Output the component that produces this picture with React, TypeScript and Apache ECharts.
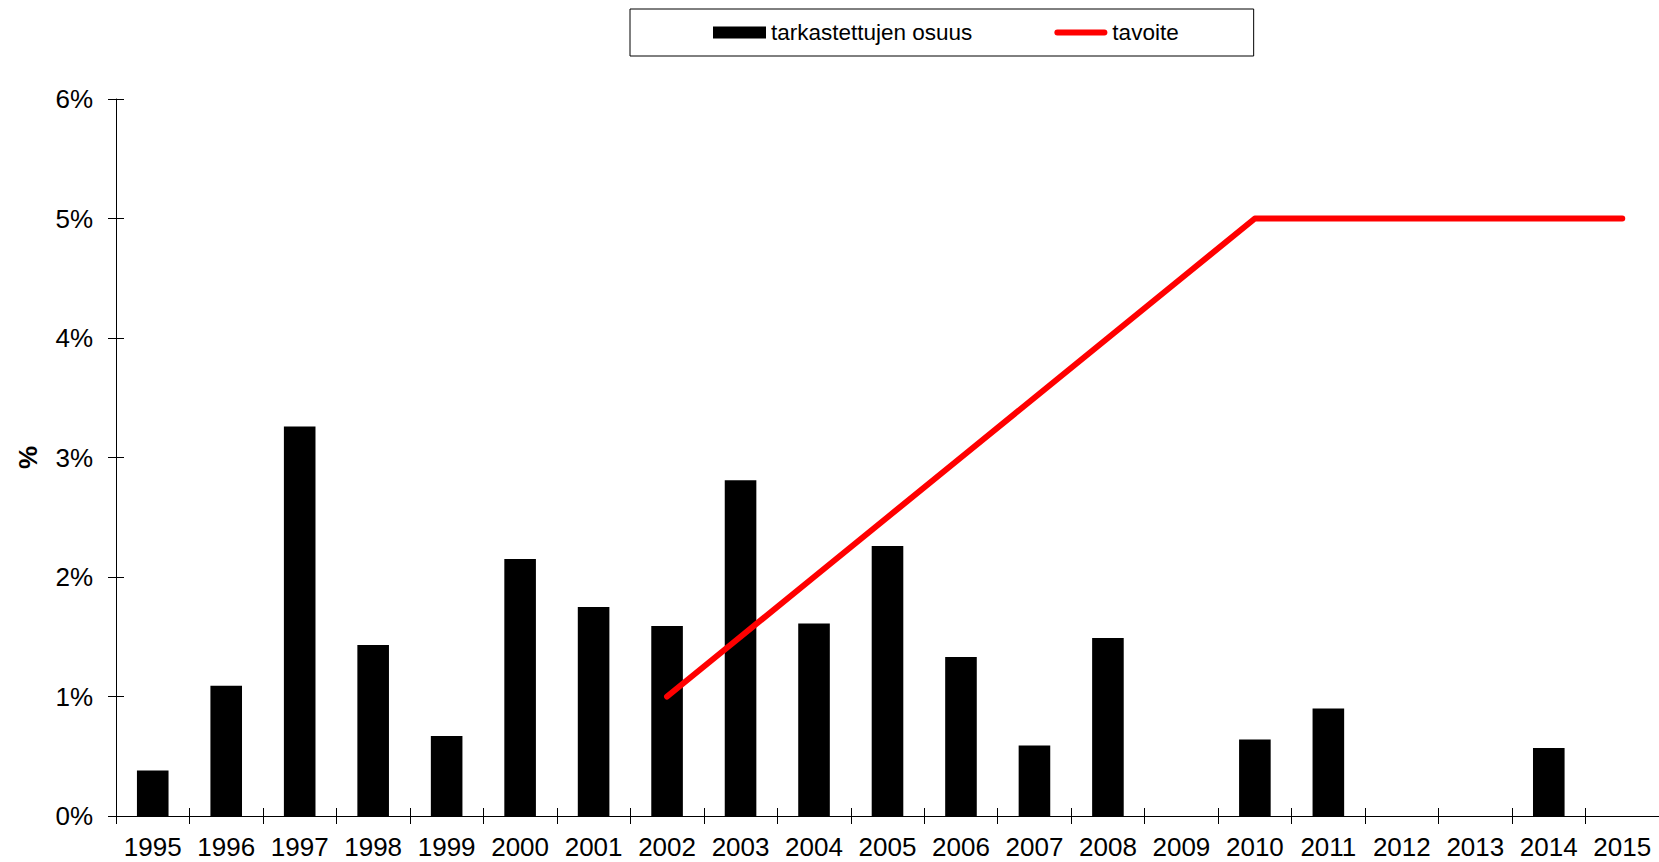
import React, { useEffect, useRef } from "react";
import * as echarts from "echarts";

const years = [
  "1995", "1996", "1997", "1998", "1999", "2000", "2001", "2002", "2003", "2004", "2005",
  "2006", "2007", "2008", "2009", "2010", "2011", "2012", "2013", "2014", "2015",
];
const inspectedShare = [
  0.38, 1.09, 3.26, 1.43, 0.67, 2.15, 1.75, 1.59, 2.81, 1.61, 2.26,
  1.33, 0.59, 1.49, null, 0.64, 0.9, null, null, 0.57, null,
];
const target = [
  null, null, null, null, null, null, null, 1, 1.5, 2, 2.5,
  3, 3.5, 4, 4.5, 5, 5, 5, 5, 5, 5,
];
const barName = "tarkastettujen osuus";
const lineName = "tavoite";
const yName = "%";

const FONT = "'Liberation Sans', Arial, sans-serif";
const LINE_ICON = "path://M3,0 L50,0 A3,3 0 0 1 50,6 L3,6 A3,3 0 0 1 3,0 Z";

export default function App() {
  const ref = useRef<HTMLDivElement>(null);
  useEffect(() => {
    if (!ref.current) return;
    const chart = echarts.init(ref.current, undefined, { renderer: "svg" });
    chart.setOption({
      animation: false,
      backgroundColor: "#ffffff",
      textStyle: { fontFamily: FONT, color: "#000" },
      legend: {
        left: 630,
        top: 9,
        orient: "horizontal",
        itemWidth: 53,
        itemHeight: 12,
        itemGap: 82,
        padding: [12, 75, 12, 83],
        borderColor: "#000",
        borderWidth: 1,
        symbolKeepAspect: true,
        textStyle: { fontFamily: FONT, fontSize: 22.5, color: "#000" },
        data: [
          { name: barName, icon: "rect" },
          { name: lineName, icon: LINE_ICON },
        ],
      },
      grid: { left: 116, right: 0, top: 99, bottom: 46 },
      xAxis: [
        {
          type: "category",
          data: years,
          position: "bottom",
          axisLine: { show: true, lineStyle: { color: "#000", width: 1 } },
          axisTick: { show: true, inside: false, length: 8, lineStyle: { color: "#000" } },
          axisLabel: { fontSize: 26, color: "#000", fontFamily: FONT, margin: 18, interval: 0 },
          splitLine: { show: false },
        },
        {
          type: "category",
          data: years,
          position: "bottom",
          axisLine: { show: false },
          axisTick: { show: true, inside: true, length: 8, lineStyle: { color: "#000" } },
          axisLabel: { show: false },
          splitLine: { show: false },
        },
      ],
      yAxis: [
        {
          type: "value",
          min: 0,
          max: 6,
          interval: 1,
          name: yName,
          nameLocation: "middle",
          nameRotate: 90,
          nameGap: 75,
          nameTextStyle: { fontSize: 26, fontWeight: "bold", color: "#000", fontFamily: FONT },
          axisLine: { show: true, lineStyle: { color: "#000", width: 1 } },
          axisTick: { show: true, inside: false, length: 8, lineStyle: { color: "#000" } },
          axisLabel: { fontSize: 26, color: "#000", fontFamily: FONT, margin: 23, formatter: "{value}%" },
          splitLine: { show: false },
        },
        {
          type: "value",
          min: 0,
          max: 6,
          interval: 1,
          position: "left",
          axisLine: { show: false },
          axisTick: { show: true, inside: true, length: 8, lineStyle: { color: "#000" } },
          axisLabel: { show: false },
          splitLine: { show: false },
        },
      ],
      series: [
        {
          name: barName,
          type: "bar",
          data: inspectedShare,
          xAxisIndex: 0,
          yAxisIndex: 0,
          barWidth: "43%",
          itemStyle: { color: "#000" },
        },
        {
          name: lineName,
          type: "line",
          data: target,
          xAxisIndex: 0,
          yAxisIndex: 0,
          symbol: "none",
          connectNulls: false,
          lineStyle: { color: "#ff0000", width: 6, cap: "round", join: "round" },
          itemStyle: { color: "#ff0000" },
        },
      ],
    });
    return () => chart.dispose();
  }, []);
  return (
    <div
      ref={ref}
      style={{ position: "fixed", left: 0, top: 0, width: 1659, height: 862 }}
    />
  );
}
